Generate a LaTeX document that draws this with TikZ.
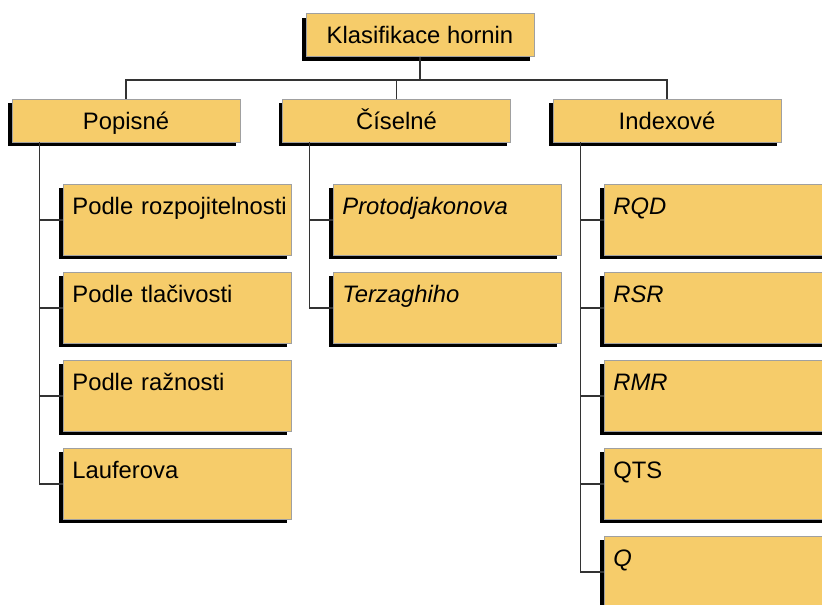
\documentclass[tikz,border=0pt]{standalone}
\usepackage{fontspec}
\setmainfont{Liberation Sans}
\usetikzlibrary{shadows}
\definecolor{boxfill}{RGB}{246,204,106}
\definecolor{boxline}{RGB}{160,160,160}
\hfuzz=20pt
\tikzset{
  box/.style={draw=boxline,fill=boxfill,line width=0.8pt,
    drop shadow={shadow xshift=-4pt,shadow yshift=-4pt,fill=black,opacity=1}},
  head/.style={box,minimum width=228pt,minimum height=43pt,inner sep=0pt,
    text height=17pt,text depth=0pt},
  leaf/.style={box,anchor=north west,text width=210pt,inner xsep=9pt,
    inner ysep=13pt,text height=17pt,text depth=28pt,align=left},
  link/.style={draw=black!80,line width=1.2pt}
}
\begin{document}
\begin{tikzpicture}[x=1pt,y=-1pt,font=\fontsize{23.8}{28}\selectfont]
\useasboundingbox (0,0) rectangle (822,605);
\clip (0,0) rectangle (822,605);
\node[head] (klas) at (420,35) {Klasifikace hornin};
\node[head] (popis) at (126,120.5) {Popisné};
\node[head] (cisel) at (396.5,120.5) {Číselné};
\node[head] (index) at (667,120.5) {Indexové};
\draw[link] (klas.south) -- ++(0,23) -| (popis.north);
\draw[link] (klas.south) -- ++(0,23) -| (cisel.north);
\draw[link] (klas.south) -- ++(0,23) -| (index.north);
% Popisne
\foreach \n/\t [count=\i from 0] in {p1/Podle rozpojitelnosti,p2/Podle tlačivosti,
  p3/Podle ražnosti,p4/Lauferova}
{
\node[leaf] (\n) at (63,184+88*\i) {\mbox{\t}};
\draw[link] ([xshift=28pt]popis.south west) |- (\n.west);
}
% Ciselne
\foreach \n/\t [count=\i from 0] in {c1/\textit{Protodjakonova},c2/\textit{Terzaghiho}}
{
\node[leaf] (\n) at (333,184+88*\i) {\mbox{\t}};
\draw[link] ([xshift=27pt]cisel.south west) |- (\n.west);
}
% Indexove
\foreach \n/\t [count=\i from 0] in {r1/\textit{RQD},r2/\textit{RSR},r3/\textit{RMR},
  r4/QTS,r5/\textit{Q}}
{
\node[leaf] (\n) at (604,184+88*\i) {\mbox{\t}};
\draw[link] ([xshift=28pt]index.south west) |- (\n.west);
}
\end{tikzpicture}
\end{document}
